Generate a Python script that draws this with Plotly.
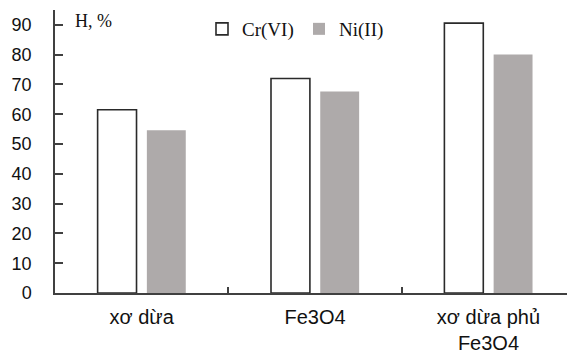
import plotly.graph_objects as go

categories = ["xơ dừa", "Fe3O4", "xơ dừa phủ<br>Fe3O4"]
cr_values = [61.5, 72.0, 90.6]
ni_values = [54.6, 67.6, 80.1]
series_names = ["Cr(VI)", "Ni(II)"]
y_ticks = [0, 10, 20, 30, 40, 50, 60, 70, 80, 90]

W, H = 567, 354
ML, MR, MT, MB = 55, 0, 10, 57

fig = go.Figure()
fig.add_trace(go.Bar(
    x=categories, y=cr_values, name=series_names[0],
    marker=dict(color="white", line=dict(color="#2a2a2a", width=1.6)),
))
fig.add_trace(go.Bar(
    x=categories, y=ni_values, name=series_names[1],
    marker=dict(color="#aeaaaa", line=dict(width=0)),
))

fig.update_layout(
    width=W, height=H,
    margin=dict(l=ML, r=MR, t=MT, b=MB, pad=0),
    paper_bgcolor="white", plot_bgcolor="white",
    barmode="group", bargap=0.432, bargroupgap=0.21,
    showlegend=True,
    legend=dict(
        orientation="h", x=(202 - ML) / (W - ML - MR), xanchor="left",
        y=1.0, yanchor="top",
        font=dict(family="Liberation Serif", size=19, color="#111"),
        bgcolor="rgba(0,0,0,0)", borderwidth=0,
        entrywidth=52, entrywidthmode="pixels",
        itemwidth=30, tracegroupgap=0,
    ),
    font=dict(family="Liberation Sans", color="#111"),
)

fig.update_xaxes(
    type="category",
    range=[-0.5, 2.453],
    showline=True, linecolor="#404040", linewidth=1.5,
    ticks="inside", tickson="boundaries", ticklen=6, tickcolor="#404040", tickwidth=1.5,
    tickfont=dict(family="Liberation Sans", size=20, color="#111"),
    ticklabelstandoff=5,
    showgrid=False, zeroline=False,
)
fig.update_yaxes(
    range=[0, 95],
    tickvals=y_ticks,
    showline=True, linecolor="#404040", linewidth=1.5,
    ticks="inside", ticklen=8, tickcolor="#404040", tickwidth=1.5,
    tickfont=dict(family="Liberation Sans", size=18, color="#111"),
    ticklabelstandoff=18,
    showgrid=False, zeroline=False,
)

fig.add_annotation(
    text="H, %", xref="paper", yref="paper",
    x=(73 - ML) / (W - ML - MR), y=(297 - 21) / (H - MT - MB),
    xanchor="left", yanchor="middle", showarrow=False,
    font=dict(family="Liberation Serif", size=18, color="#111"),
)

fig.write_html("out.html")
